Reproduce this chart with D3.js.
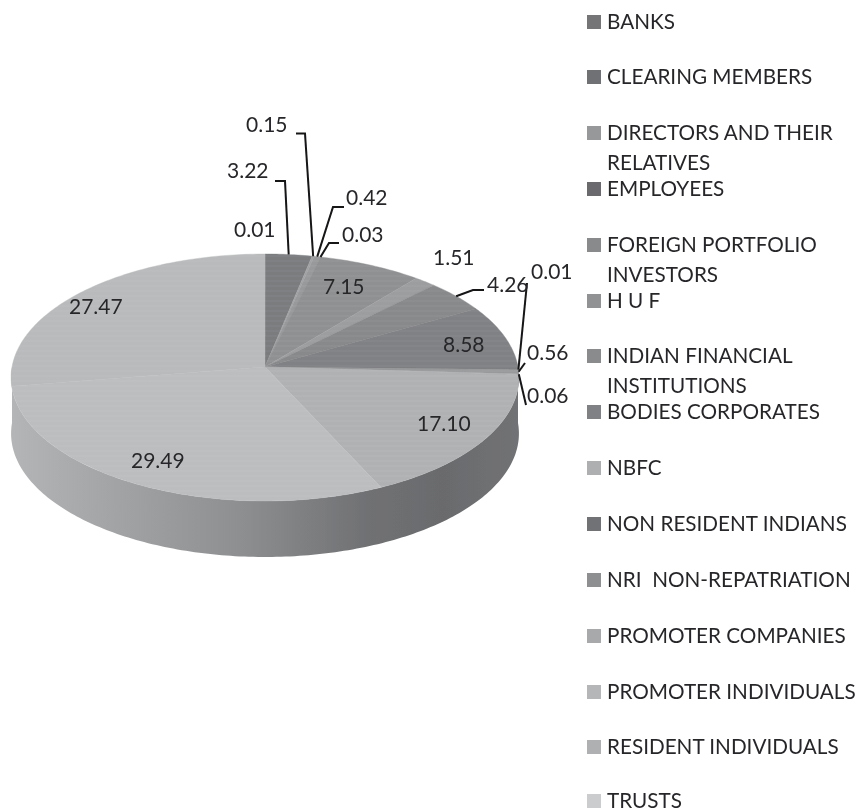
<!DOCTYPE html>
<html><head><meta charset="utf-8">
<script src="https://cdn.jsdelivr.net/npm/d3@7"></script>
<style>html,body{margin:0;background:#fff}svg{display:block}text{font-family:Lato,"Open Sans",sans-serif;fill:#28282a;white-space:pre}</style>
</head><body><svg id="c" width="860" height="812"></svg>
<script>
const categories=["BANKS","CLEARING MEMBERS","DIRECTORS AND THEIR|RELATIVES","EMPLOYEES","FOREIGN PORTFOLIO|INVESTORS","H U F","INDIAN FINANCIAL|INSTITUTIONS","BODIES CORPORATES","NBFC","NON RESIDENT INDIANS","NRI  NON-REPATRIATION","PROMOTER COMPANIES","PROMOTER INDIVIDUALS","RESIDENT INDIVIDUALS","TRUSTS"];
const values=[0.01,3.22,0.15,0.42,0.03,7.15,1.51,4.26,8.58,0.01,0.56,0.06,17.10,29.49,27.47];
const valueLabels=["0.01","3.22","0.15","0.42","0.03","7.15","1.51","4.26","8.58","0.01","0.56","0.06","17.10","29.49","27.47"];
const sliceColors=["#7b7c7f","#7a7b7e","#a0a1a3","#98999b","#909193","#8f9092","#9c9d9f","#88898b","#808184","#77787b","#98999b","#a5a6a8","#b0b1b3","#bcbdbf","#b9babc"];
const legendColors=["#747578","#707174","#97989a","#6a6b6e","#898a8c","#919294","#8a8b8d","#808184","#aeafb1","#717275","#8e8f91","#a8a9ab","#b5b6b8","#afb0b2","#cbccce"];
// layout (not data)
const labelPos=[[234,237],[227,178],[246,132],[346,205],[342,242],[323,294],[433,265],[487,292],[443,352],[531,279],[527,360],[527,403],[417,431],[131,468],[69,314]];
const leaders=[null,[[275,181],[285,181]],[[296,133.5],[305,133.5]],[[344,207],[333,207]],[[339,243],[329,243]],null,null,[[484,290],[473,290]],null,[[527,283]],[[525,363]],[[526,405]],null,null,null];
const legendY=[22,77,133,189,245,301,356,412,468,524,580,636,692,747,801];

const cx=265,cy=367,b=253,a=122.6,p=0.085,depth=56;
const svg=d3.select("#c"),defs=svg.append("defs");
const sx=d3.scaleLinear().domain([-1,1]).range([-b,b]);
const sy=d3.scaleLinear().domain([-1,1]).range([a,-a]);
function proj(t,r=1){const u=Math.sin(t)*r,v=Math.cos(t)*r,s=1/(1+p*v);return [cx+sx(u)*s,cy+sy(v)*s];}
const pie=d3.pie().sort(null).startAngle(0).endAngle(2*Math.PI)(values);
const line=d3.line();
function rim(t0,t1){const n=Math.max(2,Math.ceil((t1-t0)*60));return d3.range(n+1).map(i=>proj(t0+(t1-t0)*i/n));}

const grad=defs.append("linearGradient").attr("id","wall").attr("gradientUnits","userSpaceOnUse").attr("x1",10).attr("x2",519).attr("y1",0).attr("y2",0);
[[0,"#b4b5b7"],[0.2,"#a3a4a6"],[0.45,"#8e8f91"],[0.7,"#707173"],[0.85,"#6a6b6d"],[1,"#717274"]].forEach(s=>grad.append("stop").attr("offset",s[0]).attr("stop-color",s[1]));
defs.append("filter").attr("id","soft").append("feGaussianBlur").attr("stdDeviation",0.6);
defs.append("filter").attr("id","softer").append("feGaussianBlur").attr("stdDeviation",0.35);
const pat=defs.append("pattern").attr("id","stripes").attr("patternUnits","userSpaceOnUse").attr("width",8).attr("height",5);
pat.append("rect").attr("width",8).attr("height",2).attr("fill","#fff").attr("opacity",0.035);

const g=svg.append("g").attr("filter","url(#soft)");
const front=rim(Math.PI/2,3*Math.PI/2);
const wallPts=front.concat(front.slice().reverse().map(d=>[d[0],d[1]+depth]));
g.append("path").attr("d",line(wallPts)+"Z").attr("fill","url(#wall)");
g.selectAll("path.s").data(pie).join("path").attr("class","s")
 .attr("d",d=>line([[cx,cy],...rim(d.startAngle,d.endAngle)])+"Z")
 .attr("fill",(d,i)=>sliceColors[i]).attr("stroke",(d,i)=>sliceColors[i]).attr("stroke-width",0.4);
g.append("path").attr("d",line(rim(0,2*Math.PI))+"Z").attr("fill","url(#stripes)");

const lg=svg.append("g").attr("fill","none").attr("stroke","#141416").attr("stroke-width",2).attr("filter","url(#softer)");
pie.forEach((d,i)=>{ if(!leaders[i])return;
  const end=proj((d.startAngle+d.endAngle)/2);
  lg.append("path").attr("d",line([...leaders[i],end]));
});
svg.append("g").attr("filter","url(#softer)").selectAll("text").data(valueLabels).join("text")
 .attr("x",(d,i)=>labelPos[i][0]).attr("y",(d,i)=>labelPos[i][1]).attr("font-size",21).text(d=>d);
const lgd=svg.append("g").attr("filter","url(#softer)");
categories.forEach((c,i)=>{
  const y=legendY[i];
  lgd.append("rect").attr("x",587).attr("y",y-7).attr("width",14).attr("height",14).attr("fill",legendColors[i]);
  c.split("|").forEach((t,j)=>lgd.append("text").attr("x",607).attr("y",y+7+j*29.5).attr("font-size",20.7).text(t));
});
</script></body></html>
